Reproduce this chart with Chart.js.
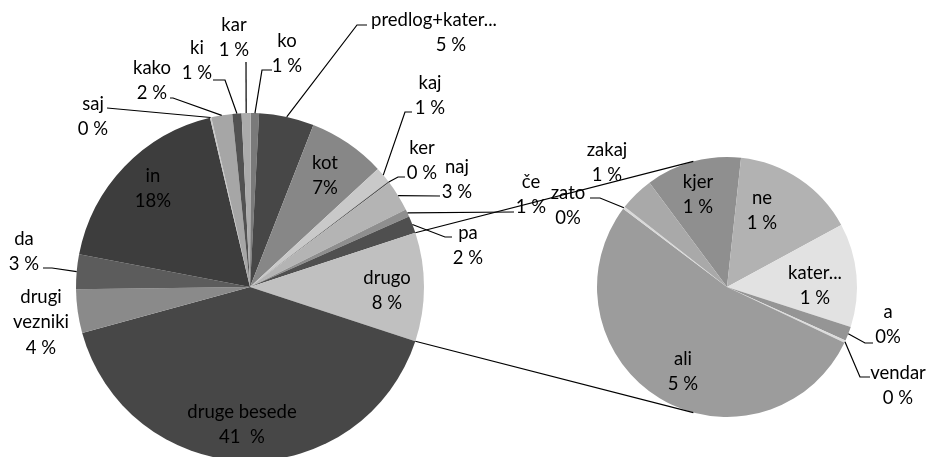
<!DOCTYPE html>
<html>
<head>
<meta charset="utf-8">
<script src="https://cdn.jsdelivr.net/npm/chart.js@4.4.1/dist/chart.umd.min.js"></script>
<style>
  html, body { margin: 0; padding: 0; background: #fff; overflow: hidden; }
  .layer { position: absolute; left: 0; top: 0; width: 930px; height: 457px; }
</style>
</head>
<body>
<div class="layer"><canvas id="chart-main"></canvas></div>
<div class="layer"><canvas id="chart-sub"></canvas></div>
<script>
// main pie, clockwise from 12 o'clock
const MAIN_LABELS = ['ko', 'predlog+kater...', 'kot', 'kaj', 'ker', 'naj', 'če', 'pa', 'drugo',
  'druge besede', 'drugi vezniki', 'da', 'in', 'saj', 'kako', 'ki', 'kar'];
const MAIN_SHARE = [0.76, 5.1, 7.2, 1.5, 0.12, 2.9, 0.7, 1.6, 10.09,
  40.7, 4.06, 3.2, 18.3, 0.12, 1.95, 0.85, 0.85];
const MAIN_PCT = ['1 %', '5 %', '7%', '1 %', '0 %', '3 %', '1 %', '2 %', '8 %',
  '41  %', '4 %', '3 %', '18%', '0 %', '2 %', '1 %', '1 %'];
const OTHER_INDEX = 8; // 'drugo' is split out into the second pie

// second pie ("drugo")
const SUB_LABELS = ['kjer', 'ne', 'kater...', 'a', 'vendar', 'ali', 'zato', 'zakaj'];
const SUB_SHARE = [1.2, 1.55, 1.3, 0.18, 0.03, 5.37, 0.03, 0.43];
const SUB_PCT = ['1 %', '1 %', '1 %', '0%', '0 %', '5 %', '0%', '1 %'];

const MAIN_COLORS = ['#7a7a7a', '#474747', '#878787', '#c9c9c9', '#4d4d4d', '#b4b4b4', '#8e8e8e', '#4f4f4f', '#c0c0c0',
  '#474747', '#8a8a8a', '#5c5c5c', '#3d3d3d', '#c8c8c8', '#a6a6a6', '#525252', '#ababab'];
const SUB_COLORS = ['#8f8f8f', '#b2b2b2', '#e2e2e2', '#959595', '#dcdcdc', '#9c9c9c', '#d9d9d9', '#a9a9a9'];

const FONT = '18.5px Lato, sans-serif';
const LINE_H = 25.5;

// label placement: first line centre, optional leader polyline (ends on the slice edge)
const MAIN_LAYOUT = {
  'ko': { x: 287, y: 41, leader: [[272, 70], [262, 70]] },
  'predlog+kater...': { x: 434, y: 20, leader: [[367, 25], [357, 25]], pctX: 451 },
  'kot': { x: 325, y: 163 },
  'kaj': { x: 430, y: 83, leader: [[412, 112], [405, 112]] },
  'ker': { x: 422, y: 148, leader: [[405, 177], [398, 177]] },
  'naj': { x: 457, y: 167, leader: [[440, 196]] },
  'če': { x: 531, y: 182, leader: [[514, 212]] },
  'pa': { x: 468, y: 233, leader: [[452, 237], [445, 237]] },
  'drugo': { x: 387, y: 278 },
  'druge besede': { x: 242, y: 412 },
  'drugi vezniki': { x: 41, y: 297, lines: ['drugi', 'vezniki'] },
  'da': { x: 24, y: 239, leader: [[43, 268], [52, 268]] },
  'in': { x: 153, y: 176 },
  'saj': { x: 93, y: 104, leader: [[107, 108]] },
  'kako': { x: 152, y: 68, leader: [[170, 98], [173, 98]] },
  'ki': { x: 197, y: 48, leader: [[213, 80], [225, 80]] },
  'kar': { x: 234, y: 25, leader: [[246, 62]] },
};

const SUB_LAYOUT = {
  'kjer': { x: 698, y: 182 },
  'ne': { x: 762, y: 198 },
  'kater...': { x: 815, y: 273 },
  'a': { x: 888, y: 312, leader: [[873, 343], [865, 343]] },
  'vendar': { x: 898, y: 373, leader: [[870, 377], [860, 377]] },
  'ali': { x: 683, y: 359 },
  'zato': { x: 568, y: 193, leader: [[590, 198], [600, 198]] },
  'zakaj': { x: 607, y: 150 },
};

const charts = {};

function edgePoint(arc, angle) {
  const p = arc.getProps(['x', 'y', 'outerRadius']);
  return [p.x + p.outerRadius * Math.cos(angle), p.y + p.outerRadius * Math.sin(angle)];
}

function drawLabels(chart, names, pcts, layout) {
  const { ctx } = chart;
  const arcs = chart.getDatasetMeta(0).data;
  ctx.save();
  ctx.strokeStyle = '#000';
  ctx.lineWidth = 1.2;
  ctx.fillStyle = '#000';
  ctx.font = FONT;
  ctx.textAlign = 'center';
  ctx.textBaseline = 'middle';
  names.forEach((name, i) => {
    const L = layout[name];
    if (!L) return;
    if (L.leader) {
      const a = arcs[i].getProps(['startAngle', 'endAngle']);
      const [ex, ey] = edgePoint(arcs[i], (a.startAngle + a.endAngle) / 2);
      ctx.beginPath();
      ctx.moveTo(L.leader[0][0], L.leader[0][1]);
      L.leader.slice(1).forEach(p => ctx.lineTo(p[0], p[1]));
      ctx.lineTo(ex, ey);
      ctx.stroke();
    }
    const lines = (L.lines || [name]).concat(pcts[i]);
    lines.forEach((s, k) => {
      const x = (k === lines.length - 1 && L.pctX) ? L.pctX : L.x;
      ctx.fillText(s, x, L.y + k * LINE_H);
    });
  });
  ctx.restore();
}

const mainLabelsPlugin = {
  id: 'mainLabels',
  afterDraw(chart) { drawLabels(chart, MAIN_LABELS, MAIN_PCT, MAIN_LAYOUT); }
};

const subLabelsPlugin = {
  id: 'subLabels',
  afterDraw(chart) {
    drawLabels(chart, SUB_LABELS, SUB_PCT, SUB_LAYOUT);
    // connector lines from the 'drugo' slice to the second pie
    if (!charts.main) return;
    const other = charts.main.getDatasetMeta(0).data[OTHER_INDEX];
    const o = other.getProps(['startAngle', 'endAngle']);
    const sub = chart.getDatasetMeta(0).data[0];
    const a1 = edgePoint(other, o.startAngle);
    const a2 = edgePoint(other, o.endAngle);
    const b1 = edgePoint(sub, (345 - 90) * Math.PI / 180);
    const b2 = edgePoint(sub, (195 - 90) * Math.PI / 180);
    const { ctx } = chart;
    ctx.save();
    ctx.strokeStyle = '#000';
    ctx.lineWidth = 1.2;
    ctx.beginPath();
    ctx.moveTo(a1[0], a1[1]); ctx.lineTo(b1[0], b1[1]);
    ctx.moveTo(a2[0], a2[1]); ctx.lineTo(b2[0], b2[1]);
    ctx.stroke();
    ctx.restore();
  }
};

// rotate the main pie so that 'drugo' is centred at 3 o'clock
const mainTotal = MAIN_SHARE.reduce((a, b) => a + b, 0);
const before = MAIN_SHARE.slice(0, OTHER_INDEX).reduce((a, b) => a + b, 0);
const mainRotation = 90 - (before + MAIN_SHARE[OTHER_INDEX] / 2) / mainTotal * 360;

charts.main = new Chart(document.getElementById('chart-main'), {
  type: 'pie',
  data: {
    labels: MAIN_LABELS,
    datasets: [{
      data: MAIN_SHARE,
      backgroundColor: MAIN_COLORS,
      borderWidth: 0,
      hoverOffset: 0,
    }]
  },
  options: {
    responsive: true,
    maintainAspectRatio: false,
    animation: false,
    events: [],
    rotation: mainRotation,
    radius: 174,
    layout: { padding: { left: 0, right: 430, top: 117, bottom: 0 } },
    plugins: { legend: { display: false }, tooltip: { enabled: false } }
  },
  plugins: [mainLabelsPlugin]
});

charts.sub = new Chart(document.getElementById('chart-sub'), {
  type: 'pie',
  data: {
    labels: SUB_LABELS,
    datasets: [{
      data: SUB_SHARE,
      backgroundColor: SUB_COLORS,
      borderWidth: 0,
      hoverOffset: 0,
    }]
  },
  options: {
    responsive: true,
    maintainAspectRatio: false,
    animation: false,
    events: [],
    rotation: -36.6,
    radius: 130,
    layout: { padding: { left: 524, right: 0, top: 117, bottom: 0 } },
    plugins: { legend: { display: false }, tooltip: { enabled: false } }
  },
  plugins: [subLabelsPlugin]
});
</script>
</body>
</html>
